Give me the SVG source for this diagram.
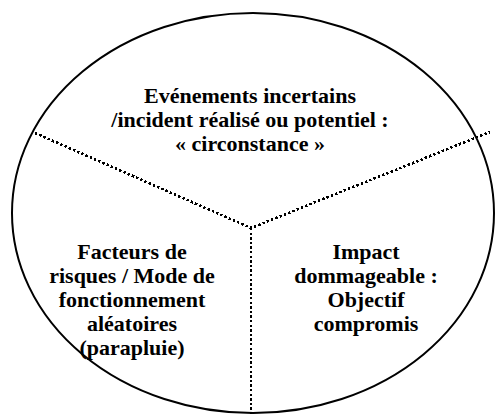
<svg xmlns="http://www.w3.org/2000/svg" width="495" height="415" viewBox="0 0 495 415">
  <style>
    .outline { fill: #ffffff; stroke: #000000; stroke-width: 2; }
    .divider { fill: none; stroke: #000000; stroke-width: 2.6; stroke-dasharray: 2.4 2.2; shape-rendering: crispEdges; }
    text { font-family: 'Liberation Serif', 'Times New Roman', Times, serif; font-weight: bold; font-size: 22px; fill: #000000; text-anchor: middle; }
  </style>
  <rect x="0" y="0" width="495" height="415" fill="#ffffff"/>
  <g id="cercle">
    <ellipse class="outline" cx="253" cy="213" rx="241" ry="200"/>
  </g>
  <g id="connecteurs">
    <polyline class="divider" points="35,133 251,228 490,132"/>
    <line class="divider" x1="251" y1="228" x2="251" y2="414"/>
  </g>
  <g id="circonstance">
    <text x="250" y="103">Evénements incertains</text>
    <text x="250" y="127">/incident réalisé ou potentiel :</text>
    <text x="250" y="151">« circonstance »</text>
  </g>
  <g id="facteurs">
    <text x="132" y="259">Facteurs de</text>
    <text x="132" y="283">risques / Mode de</text>
    <text x="132" y="307">fonctionnement</text>
    <text x="132" y="331">aléatoires</text>
    <text x="132" y="355">(parapluie)</text>
  </g>
  <g id="impact">
    <text x="366" y="259">Impact</text>
    <text x="366" y="283">dommageable :</text>
    <text x="366" y="307">Objectif</text>
    <text x="366" y="331">compromis</text>
  </g>
</svg>
